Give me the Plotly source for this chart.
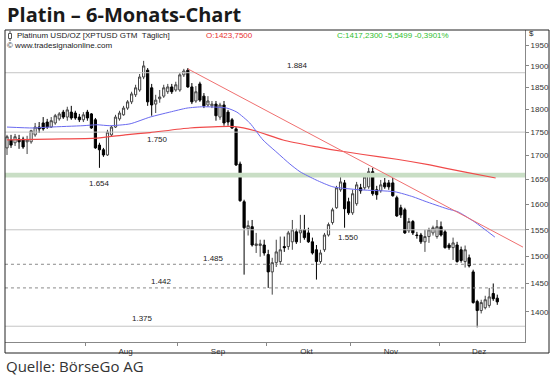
import numpy as np
import plotly.graph_objects as go

# ---------------- data ----------------
opens = [1716,1733,1727,1735,1735,1729,1729,1744,1761,1770,
         1772,1761,1770,1779,1794,1783,1794,1792,1783,1777,
         1794,1790,1777,1722,1712,1701,1744,1761,1779,1788,
         1803,1817,1833,1844,1874,1890,1849,1812,1824,1830,
         1840,1851,1844,1844,1879,1890,1851,1819,1858,1830,
         1810,1808,1812,1783,1810,1794,1777,1757,1682,1605,
         1552,1556,1520,1520,1521,1503,1471,1488,1490,1518,
         1518,1527,1546,1544,1550,1544,1527,1512,1490,1512,
         1540,1564,1593,1629,1643,1605,1583,1601,1633,1633,
         1635,1666,1629,1627,1643,1643,1643,1613,1593,1589,
         1548,1566,1540,1540,1527,1537,1544,1537,1556,1546,
         1521,1516,1521,1512,1490,1497,1471,1418,1402,1407,
         1411,1432,1423.75]
highs = [1744,1744,1746,1744,1740,1742,1755,1770,1772,1783,
         1779,1783,1790,1794,1799,1806,1808,1797,1790,1794,
         1799,1792,1781,1727,1716,1755,1764,1788,1797,1808,
         1821,1840,1856,1881,1912,1895,1858,1833,1844,1856,
         1858,1858,1863,1883,1893,1895,1860,1853,1863,1837,
         1830,1819,1819,1815,1819,1799,1781,1761,1687,1609,
         1568,1569,1544,1531,1531,1512,1497,1531,1537,1537,
         1548,1569,1552,1579,1579,1554,1535,1521,1512,1544,
         1564,1593,1637,1660,1649,1613,1629,1645,1641,1662,
         1674,1674,1637,1649,1653,1649,1653,1617,1599,1593,
         1573,1569,1546,1544,1550,1554,1558,1569,1566,1550,
         1525,1535,1527,1518,1520,1503,1475,1421,1421,1428,
         1442,1450,1430]
lows = [1701,1716,1720,1714,1714,1703,1725,1740,1748,1753,
        1757,1759,1766,1775,1779,1775,1777,1777,1772,1772,
        1775,1757,1714,1674,1697,1699,1740,1759,1775,1786,
        1799,1812,1828,1840,1869,1808,1786,1792,1815,1826,
        1835,1835,1840,1840,1874,1849,1812,1815,1817,1803,
        1806,1803,1775,1777,1764,1764,1757,1678,1605,1466,
        1539,1518,1506,1499,1501,1442,1430,1480,1484,1508,
        1512,1512,1523,1525,1531,1525,1503,1457,1486,1508,
        1537,1560,1591,1625,1554,1579,1579,1597,1621,1629,
        1631,1617,1609,1623,1631,1629,1615,1575,1573,1542,
        1544,1540,1533,1523,1508,1525,1539,1533,1537,1514,
        1512,1493,1488,1488,1479,1479,1414,1373,1397,1404,
        1407,1419,1412]
closes = [1740,1722,1740,1729,1718,1733,1753,1761,1757,1757,
          1761,1775,1786,1790,1783,1799,1781,1781,1777,1788,
          1781,1759,1716,1712,1701,1750,1761,1783,1792,1803,
          1817,1835,1849,1874,1900,1817,1810,1821,1828,1849,
          1851,1840,1856,1879,1888,1851,1817,1840,1821,1808,
          1819,1812,1786,1810,1770,1772,1759,1680,1607,1554,
          1558,1521,1523,1523,1506,1471,1488,1508,1512,1516,
          1544,1550,1527,1550,1535,1527,1506,1490,1506,1540,
          1560,1589,1633,1645,1591,1583,1621,1639,1627,1655,
          1666,1621,1619,1639,1635,1635,1617,1577,1579,1544,
          1566,1544,1539,1527,1537,1550,1554,1556,1540,1516,
          1516,1525,1490,1492,1512,1482,1416,1402,1416,1421,
          1426,1422.78,1417.23]
days = list(range(len(opens)))

# moving averages
ma_blue_idx = [0, 6.5, 10.7, 18.9, 22.4, 25.6, 30.6, 35.6, 40.5, 44.8, 48.8, 54.7, 57.2,
               60.4, 63.7, 67.2, 70.4, 72.9, 76.9, 81.1, 87.8, 96.5, 101, 104, 109.5,
               112.2, 116.4, 121.4]
ma_blue_val = [1761, 1759, 1761, 1764, 1766, 1764, 1768, 1783, 1794, 1803, 1806, 1803, 1794,
               1770, 1733, 1706, 1682, 1666, 1649, 1635, 1629, 1625, 1615, 1606, 1591,
               1585, 1565, 1536]
ma_red_idx = [0, 10.7, 22.4, 29.4, 35.6, 45.5, 56.7, 61.7, 68.7, 77.1, 80.3, 88.6, 97,
              105.2, 113.4, 121.6]
ma_red_val = [1733, 1735, 1737, 1744, 1749, 1759, 1762, 1753, 1733, 1718, 1713, 1702, 1692,
              1680, 1666, 1653]

trend_idx = [45, 128.4]
trend_val = [1893, 1517]

levels = [1884, 1750, 1550, 1485, 1442, 1375]
level_dotted = [False, False, False, True, True, False]
band_low, band_high = 1654, 1664

month_labels = ["Aug", "Sep", "Okt", "Nov", "Dez"]
month_start_idx = [20, 43, 65, 86, 108]
y_ticks = list(range(1400, 1951, 50))

# ---------------- figure ----------------
XR = [-0.5, 128.9]
YR = [np.log10(1348.3), np.log10(1986.7)]
SMALL = "Liberation Sans, Arial, sans-serif"

fig = go.Figure()

fig.add_trace(go.Scatter(x=[-2, 131, 131, -2, -2],
                         y=[band_low, band_low, band_high, band_high, band_low],
                         fill="toself", fillcolor="#c9dec5", mode="lines",
                         line=dict(width=0), hoverinfo="skip"))

for v, dotted in zip(levels, level_dotted):
    fig.add_trace(go.Scatter(x=[-2, 131], y=[v, v], mode="lines", hoverinfo="skip",
                             line=dict(color="#8a8a8a" if dotted else "#c4c4c4",
                                       width=1, dash="dot" if dotted else "solid")))

fig.add_trace(go.Scatter(x=ma_red_idx, y=ma_red_val, mode="lines",
                         line=dict(color="#f04a4a", width=1.2, shape="spline", smoothing=0.6),
                         hoverinfo="skip"))
fig.add_trace(go.Scatter(x=ma_blue_idx, y=ma_blue_val, mode="lines",
                         line=dict(color="#6a6af0", width=1, shape="spline", smoothing=0.6),
                         hoverinfo="skip"))
fig.add_trace(go.Scatter(x=trend_idx, y=trend_val, mode="lines",
                         line=dict(color="#f07070", width=1), hoverinfo="skip"))

fig.add_trace(go.Candlestick(
    x=days, open=opens, high=highs, low=lows, close=closes,
    increasing=dict(line=dict(color="#444444", width=1), fillcolor="#ffffff"),
    decreasing=dict(line=dict(color="#000000", width=1), fillcolor="#000000"),
    whiskerwidth=0))

# level labels
label_pos = {1884: (72.3, 7), 1750: (37.4, -7), 1654: (22.9, -6), 1550: (85.1, -8),
             1485: (51.5, 6), 1442: (38.4, 6), 1375: (33.6, 8)}
for v, (xi, ys) in label_pos.items():
    fig.add_annotation(x=xi, y=np.log10(v), xref="x", yref="y", yshift=ys,
                       text=f"{v/1000:.3f}", showarrow=False,
                       font=dict(family=SMALL, size=8, color="#222"))

def px(x):
    return (x - 5) / 520.0

def py(y):
    return (342 - y) / 312.0

# header texts
fig.add_annotation(x=px(15), y=py(35.5), xref="paper", yref="paper", xanchor="left",
                   yanchor="middle", showarrow=False,
                   text="Platinum USD/OZ [XPTUSD GTM  Täglich]",
                   font=dict(family=SMALL, size=8, color="#222"))
fig.add_annotation(x=px(204), y=py(35.5), xref="paper", yref="paper", xanchor="left",
                   yanchor="middle", showarrow=False, text="O:1423,7500",
                   font=dict(family=SMALL, size=8, color="#e83030"))
fig.add_annotation(x=px(335), y=py(35.5), xref="paper", yref="paper", xanchor="left",
                   yanchor="middle", showarrow=False, text="C:1417,2300 -5,5499 -0,3901%",
                   font=dict(family=SMALL, size=8, color="#30c030"))
fig.add_annotation(x=px(5), y=py(45.5), xref="paper", yref="paper", xanchor="left",
                   yanchor="middle", showarrow=False, text="© www.tradesignalonline.com",
                   font=dict(family=SMALL, size=8, color="#222"))
fig.add_annotation(x=px(527), y=py(34), xref="paper", yref="paper", xanchor="left",
                   yanchor="middle", showarrow=False, text="$",
                   font=dict(family=SMALL, size=8, color="#222"))

# title & source
fig.add_annotation(x=px(5), y=py(15), xref="paper", yref="paper", xanchor="left",
                   yanchor="middle", showarrow=False, text="<b>Platin – 6-Monats-Chart</b>",
                   font=dict(family="Open Sans, sans-serif", size=20, color="#1a1a1a"))
fig.add_annotation(x=px(4), y=py(366), xref="paper", yref="paper", xanchor="left",
                   yanchor="middle", showarrow=False, text="Quelle: BörseGo AG",
                   font=dict(family="Open Sans, sans-serif", size=15, color="#333"))

# small candle icon + outer frame
fig.add_shape(type="line", xref="paper", yref="paper", x0=px(10), x1=px(10),
              y0=py(31), y1=py(41), line=dict(color="#555", width=1))
fig.add_shape(type="rect", xref="paper", yref="paper", x0=px(8.5), x1=px(11.5),
              y0=py(33.5), y1=py(38.5), line=dict(color="#555", width=1), fillcolor="white")
fig.add_shape(type="rect", xref="paper", yref="paper", x0=px(5), x1=px(549),
              y0=py(353), y1=py(30), line=dict(color="#222", width=1), layer="above")

fig.update_layout(
    width=560, height=378, margin=dict(l=5, r=35, t=30, b=36, autoexpand=False),
    paper_bgcolor="white", plot_bgcolor="white", showlegend=False,
    boxgap=0.22,
    xaxis=dict(range=XR, showgrid=False, zeroline=False, showline=True,
               linecolor="#888", linewidth=1, rangeslider=dict(visible=False),
               tickmode="array", tickvals=[s + 9.5 for s in month_start_idx],
               ticktext=month_labels, ticks="", ticklabelstandoff=1,
               tickfont=dict(family=SMALL, size=8, color="#333"),
               minor=dict(tickmode="array", tickvals=[s - 0.5 for s in month_start_idx],
                          ticks="outside", ticklen=3, tickcolor="#888", showgrid=False)),
    yaxis=dict(type="log", range=YR, side="right", showgrid=False, zeroline=False,
               showline=True, linecolor="#888", linewidth=1,
               tickmode="array", tickvals=y_ticks, ticktext=[str(v) for v in y_ticks],
               ticks="outside", ticklen=3, tickcolor="#888",
               tickfont=dict(family=SMALL, size=8, color="#333")),
)

fig.write_html("out.html", config={"displayModeBar": False},
               post_script="document.body.style.margin='0';document.body.style.overflow='hidden';")
